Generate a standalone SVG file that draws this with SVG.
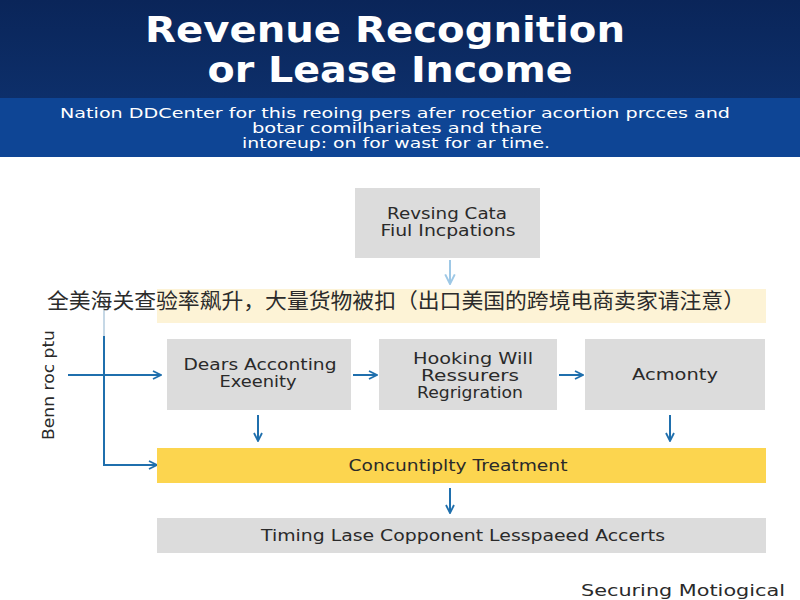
<svg xmlns="http://www.w3.org/2000/svg" width="800" height="600" viewBox="0 0 800 600">
<defs>
<linearGradient id="hdr" x1="0" y1="0" x2="0" y2="1">
<stop offset="0" stop-color="#0a2559"/>
<stop offset="1" stop-color="#0d2f6a"/>
</linearGradient>
<marker id="ah" viewBox="0 0 10 10" refX="9" refY="5" markerWidth="10" markerHeight="10" markerUnits="userSpaceOnUse" orient="auto">
<path d="M1,1 L9,5 L1,9" fill="none" stroke="#1f6fad" stroke-width="1.8"/>
</marker>
<marker id="ahl" viewBox="0 0 10 10" refX="9" refY="5" markerWidth="12" markerHeight="12" markerUnits="userSpaceOnUse" orient="auto">
<path d="M1,1 L9,5 L1,9" fill="none" stroke="#9ec8e6" stroke-width="1.6"/>
</marker>
</defs>
<style>
.box{fill:#dcdcdc}
.t{font-family:"DejaVu Sans",Verdana,sans-serif;font-size:15px;fill:#2a2a2a;text-anchor:middle}
.w{font-family:"DejaVu Sans",Verdana,sans-serif;fill:#ffffff;text-anchor:middle}
.c{fill:none;stroke:#1f6fad;stroke-width:2}
</style>
<rect x="0" y="0" width="800" height="600" fill="#ffffff"/>
<g id="header">
<rect x="0" y="0" width="800" height="98" fill="url(#hdr)"/>
<rect x="0" y="98" width="800" height="59" fill="#0e4595"/>
<text class="w" x="385" y="42" font-size="35" font-weight="bold" textLength="480" lengthAdjust="spacingAndGlyphs">Revenue Recognition</text>
<text class="w" x="390" y="82" font-size="35" font-weight="bold" textLength="365" lengthAdjust="spacingAndGlyphs">or Lease Income</text>
<text class="w" x="395" y="118" font-size="14" textLength="670" lengthAdjust="spacingAndGlyphs">Nation DDCenter for this reoing pers afer rocetior acortion prcces and</text>
<text class="w" x="397" y="133" font-size="14" textLength="290" lengthAdjust="spacingAndGlyphs">botar comilhariates and thare</text>
<text class="w" x="396" y="148" font-size="14" textLength="308" lengthAdjust="spacingAndGlyphs">intoreup: on for wast for ar time.</text>
</g>
<g id="connectors">
<line x1="450" y1="260" x2="450" y2="284" stroke="#9ec8e6" stroke-width="2" marker-end="url(#ahl)"/>
<line x1="104" y1="300" x2="104" y2="336" stroke="#c6d8e6" stroke-width="2"/>
<polyline class="c" points="104,336 104,465 157,465" marker-end="url(#ah)"/>
<line class="c" x1="68" y1="375" x2="161" y2="375" marker-end="url(#ah)"/>
<line class="c" x1="353" y1="375" x2="377" y2="375" marker-end="url(#ah)"/>
<line class="c" x1="559" y1="375" x2="583" y2="375" marker-end="url(#ah)"/>
<line class="c" x1="258" y1="415" x2="258" y2="441" marker-end="url(#ah)"/>
<line class="c" x1="670" y1="415" x2="670" y2="441" marker-end="url(#ah)"/>
<line class="c" x1="450" y1="488" x2="450" y2="513" marker-end="url(#ah)"/>
</g>
<g id="node-top">
<rect class="box" x="355" y="188" width="185" height="70"/>
<text class="t" x="447" y="219" textLength="120" lengthAdjust="spacingAndGlyphs">Revsing Cata</text>
<text class="t" x="448" y="236" textLength="135" lengthAdjust="spacingAndGlyphs">Fiul Incpations</text>
</g>
<g id="node-band">
<rect x="157" y="289" width="609" height="34" fill="#fdf3d6"/>
</g>
<g id="node-left-label">
<text class="t" transform="translate(54,385) rotate(-90)" font-size="16" fill="#222" textLength="110" lengthAdjust="spacingAndGlyphs">Benn roc ptu</text>
</g>
<g id="node-1">
<rect class="box" x="167" y="339" width="184" height="71"/>
<text class="t" x="260" y="370" textLength="153" lengthAdjust="spacingAndGlyphs">Dears Acconting</text>
<text class="t" x="258" y="387" textLength="77" lengthAdjust="spacingAndGlyphs">Exeenity</text>
</g>
<g id="node-2">
<rect class="box" x="379" y="339" width="178" height="71"/>
<text class="t" x="473" y="364" textLength="120" lengthAdjust="spacingAndGlyphs">Hooking Will</text>
<text class="t" x="470" y="381" textLength="98" lengthAdjust="spacingAndGlyphs">Ressurers</text>
<text class="t" x="470" y="398" textLength="106" lengthAdjust="spacingAndGlyphs">Regrigration</text>
</g>
<g id="node-3">
<rect class="box" x="585" y="339" width="180" height="71"/>
<text class="t" x="675" y="380" textLength="86" lengthAdjust="spacingAndGlyphs">Acmonty</text>
</g>
<g id="node-treatment">
<rect x="157" y="448" width="609" height="35" fill="#fcd54f"/>
<text class="t" x="458" y="471" textLength="219" lengthAdjust="spacingAndGlyphs">Concuntiplty Treatment</text>
</g>
<g id="node-timing">
<rect class="box" x="157" y="518" width="609" height="35"/>
<text class="t" x="463" y="541" textLength="404" lengthAdjust="spacingAndGlyphs">Timing Lase Copponent Lesspaeed Accerts</text>
</g>
<g id="footer">
<text class="t" x="683" y="596" font-size="17" textLength="204" lengthAdjust="spacingAndGlyphs">Securing Motiogical</text>
</g>
<g id="overlay">
<text x="47" y="308" font-family="'Noto Sans CJK SC',sans-serif" font-size="21" fill="#2b2b2b" textLength="698" lengthAdjust="spacingAndGlyphs">全美海关查验率飙升，大量货物被扣（出口美国的跨境电商卖家请注意）</text>
</g>
</svg>
